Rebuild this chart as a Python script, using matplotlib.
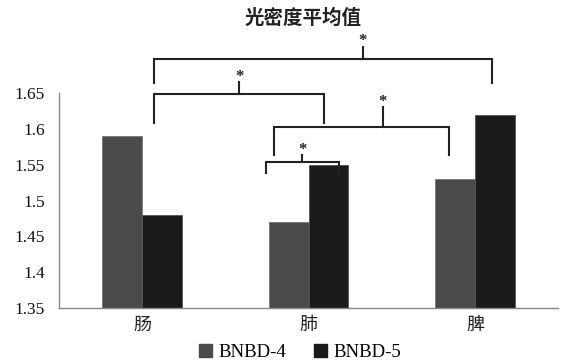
import numpy as np
import matplotlib
matplotlib.use("Agg")
import matplotlib.pyplot as plt
from matplotlib.patches import Patch

plt.rcParams['font.family'] = ['Liberation Serif', 'Noto Sans CJK SC', 'DejaVu Sans']

categories = ['肠', '肺', '脾']
bnbd4 = [1.59, 1.47, 1.53]
bnbd5 = [1.48, 1.55, 1.62]
series_names = ['BNBD-4', 'BNBD-5']

# significance brackets: x0, x1, y of bar, leg bottom, tick x, tick top, star y
brackets = [
    (0.072, 2.10, 1.697, 1.664, 1.325, 1.714, 1.722),
    (0.072, 1.093, 1.649, 1.608, 0.583, 1.665, 1.673),
    (0.793, 1.844, 1.6025, 1.5635, 1.447, 1.630, 1.638),
    (0.745, 1.183, 1.554, 1.538, 0.961, 1.5635, 1.571),
]

fig = plt.figure(figsize=(5.61, 3.63), dpi=100)
ax = fig.add_axes([0.105, 0.1515, 0.89, 0.5923])

x = np.arange(len(categories))
w = 0.24
c4 = '#4a4a4a'
c5 = '#1a1a1a'
ax.bar(x - w / 2, np.array(bnbd4) - 1.35, w, bottom=1.35, color=c4, edgecolor='#777777', linewidth=0.6)
ax.bar(x + w / 2, np.array(bnbd5) - 1.35, w, bottom=1.35, color=c5, edgecolor='#555555', linewidth=0.6)

ax.set_xlim(-0.5, 2.5)
ax.set_ylim(1.35, 1.65)
ax.set_yticks([1.35, 1.4, 1.45, 1.5, 1.55, 1.6, 1.65])
ax.set_yticklabels(['1.35', '1.4', '1.45', '1.5', '1.55', '1.6', '1.65'])
ax.set_xticks(x)
ax.set_xticklabels(categories, fontsize=13, family=['Noto Sans CJK SC'], color='#222222')
ax.tick_params(axis='y', length=0, pad=10, labelsize=12.5, labelcolor='#111111')
ax.tick_params(axis='x', length=0, pad=6)

for s in ['top', 'right']:
    ax.spines[s].set_visible(False)
ax.spines['left'].set_color('#888888')
ax.spines['bottom'].set_color('#888888')
ax.spines['left'].set_linewidth(1.0)
ax.spines['bottom'].set_linewidth(1.0)

for x0, x1, yb, yl, xt, yt, ys in brackets:
    ax.plot([x0, x0, x1, x1], [yl, yb, yb, yl], color='#222222', lw=1.5, clip_on=False,
            solid_joinstyle='miter')
    ax.plot([xt, xt], [yb, yt], color='#222222', lw=1.5, clip_on=False)
    ax.text(xt, ys, '*', ha='center', va='center', fontsize=12, fontweight='bold', color='#222222')

fig.text(0.54, 0.95, '光密度平均值', ha='center', va='center', fontsize=14,
         fontweight='bold', family=['Noto Sans CJK SC'], color='#222222')

handles = [Patch(facecolor=c4, edgecolor=c4), Patch(facecolor=c5, edgecolor=c5)]
fig.legend(handles, series_names, loc='center', bbox_to_anchor=(0.535, 0.03), ncol=2,
           frameon=False, fontsize=13.5, handlelength=0.7, handleheight=0.7,
           handletextpad=0.35, columnspacing=1.5)

fig.savefig('out.png', dpi=100)
